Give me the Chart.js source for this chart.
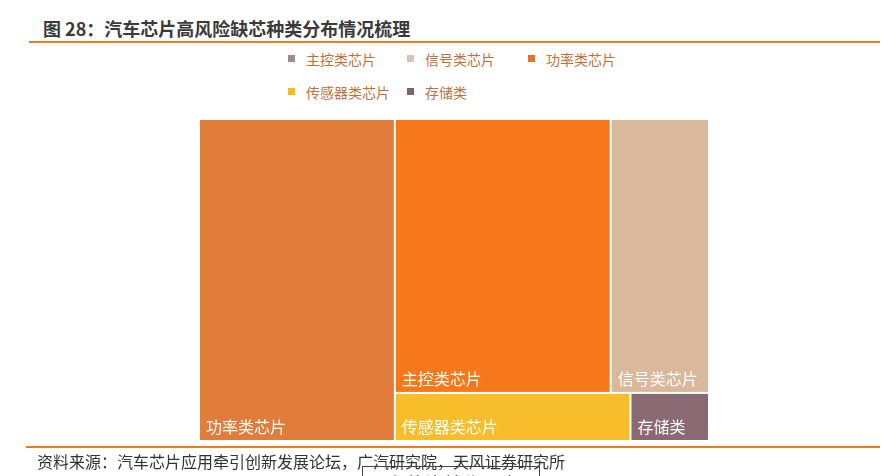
<!DOCTYPE html>
<html lang="zh">
<head>
<meta charset="UTF-8">
<title>汽车芯片高风险缺芯种类分布情况梳理</title>
<script src="https://cdn.jsdelivr.net/npm/chart.js"></script>
<style>
  body { margin: 0; background: #fff; font-family: "Noto Sans CJK SC", "Noto Sans", sans-serif; }
  #wrap { position: relative; width: 882px; height: 476px; overflow: hidden; }
  #title { position: absolute; left: 43px; top: 15px; font-size: 18px; font-weight: bold; color: #3a3a3a; white-space: nowrap; line-height: 26px; }
  #topline { position: absolute; left: 29px; top: 41px; width: 851px; height: 2px; background: #f07d1c; }
  #botline { position: absolute; left: 26px; top: 446px; width: 854px; height: 2px; background: #f07d1c; }
  #source { position: absolute; left: 37px; top: 450px; font-size: 16px; color: #333; white-space: nowrap; line-height: 22px; }
  #stamp { position: absolute; left: 362px; top: 466px; width: 178px; height: 30px; border: 1px solid #444; overflow: hidden; font-size: 19px; line-height: 28px; color: #222; padding: 3px 0 0 4px; box-sizing: border-box; white-space: nowrap; }
  #legend { position: absolute; left: 0; top: 0; }
  .item { position: absolute; font-size: 14px; color: #c0703c; white-space: nowrap; line-height: 18px; }
  .item i { position: absolute; left: 0; top: 5px; width: 7px; height: 7px; }
  .item span { position: absolute; left: 18px; top: 0; }
  canvas { position: absolute; left: 0; top: 0; }
</style>
</head>
<body>
<div id="wrap">
  <div id="title">图 28：汽车芯片高风险缺芯种类分布情况梳理</div>
  <div id="topline"></div>
  <div id="legend"></div>
  <canvas id="chart" width="882" height="476"></canvas>
  <div id="botline"></div>
  <div id="source">资料来源：汽车芯片应用牵引创新发展论坛，广汽研究院，天风证券研究所</div>
  <div id="stamp">国产芯片替代图表</div>
</div>
<script>
// categories and their shares (%)
const labels = ['功率类芯片', '主控类芯片', '信号类芯片', '传感器类芯片', '存储类'];
const values = [38.4, 36.0, 16.4, 6.9, 2.3];
const cellColors = ['#e07d3a', '#f7781b', '#dab89c', '#f8bd2b', '#8a6a72'];

// legend order and colours as they appear in the figure
const legendLabels = ['主控类芯片', '信号类芯片', '功率类芯片', '传感器类芯片', '存储类'];
const legendColors = ['#a08d8a', '#dcc2ae', '#e0742e', '#f5bc22', '#7c6176'];

// grouping of the treemap: columns, each column holds rows of category indexes
const groups = [[[0]], [[1, 2], [3, 4]]];

// legend (html)
const legendPos = [[288, 50], [407, 50], [528, 50], [288, 83], [407, 83]];
const legendEl = document.getElementById('legend');
legendLabels.forEach((l, i) => {
    const d = document.createElement('div');
    d.className = 'item';
    d.style.left = legendPos[i][0] + 'px';
    d.style.top = legendPos[i][1] + 'px';
    d.innerHTML = '<i style="background:' + legendColors[i] + '"></i><span>' + l + '</span>';
    legendEl.appendChild(d);
});

// compute the cells in data space (0..1 both ways)
const total = values.reduce((a, b) => a + b, 0);
const cells = [];
let x = 0;
groups.forEach(col => {
    const colSum = col.flat().reduce((a, i) => a + values[i], 0);
    const w = colSum / total;
    let y = 0;
    col.forEach(row => {
        const rowSum = row.reduce((a, i) => a + values[i], 0);
        const h = rowSum / colSum;
        let rx = x;
        row.forEach(i => {
            const cw = w * values[i] / rowSum;
            cells.push({ i: i, x0: rx, x1: rx + cw, y0: y, y1: y + h });
            rx += cw;
        });
        y += h;
    });
    x += w;
});

const treemapPlugin = {
    id: 'treemap',
    afterDraw(chart) {
        const ctx = chart.ctx;
        const sx = chart.scales.x, sy = chart.scales.y;
        ctx.save();
        cells.forEach(c => {
            const l = sx.getPixelForValue(c.x0), r = sx.getPixelForValue(c.x1);
            const t = sy.getPixelForValue(c.y0), b = sy.getPixelForValue(c.y1);
            ctx.fillStyle = cellColors[c.i];
            ctx.fillRect(l + 1, t + 1, r - l - 2, b - t - 2);
            ctx.fillStyle = '#fff';
            ctx.font = '16px "Noto Sans CJK SC", sans-serif';
            ctx.textBaseline = 'alphabetic';
            ctx.fillText(labels[c.i], l + 7, b - 8);
        });
        ctx.restore();
    }
};

new Chart(document.getElementById('chart'), {
    type: 'scatter',
    data: { datasets: [] },
    options: {
        responsive: false,
        animation: false,
        layout: { padding: { left: 199, right: 173, top: 119, bottom: 35 } },
        plugins: { legend: { display: false }, tooltip: { enabled: false } },
        scales: {
            x: { type: 'linear', min: 0, max: 1, display: false },
            y: { type: 'linear', min: 0, max: 1, reverse: true, display: false }
        }
    },
    plugins: [treemapPlugin]
});
</script>
</body>
</html>
